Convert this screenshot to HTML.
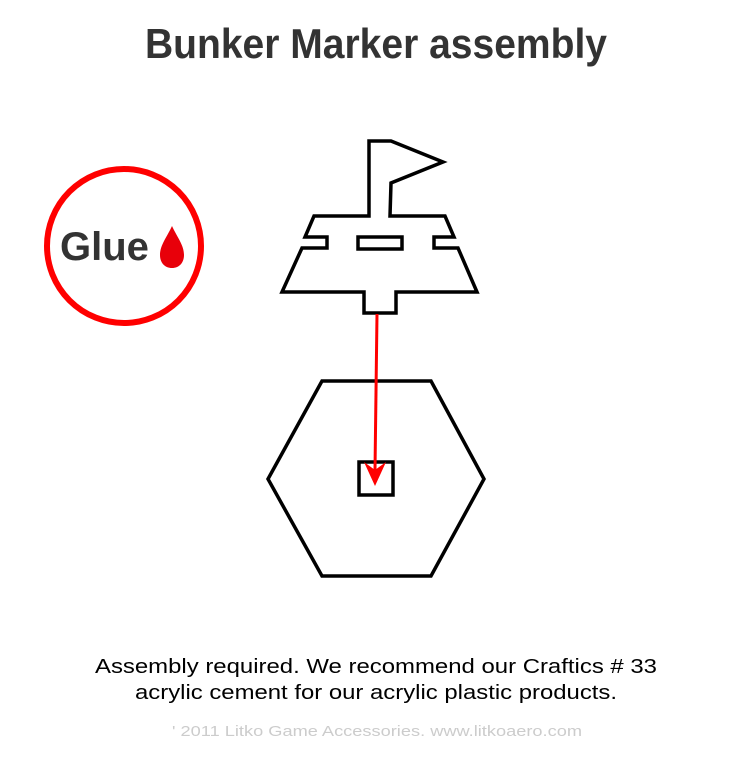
<!DOCTYPE html>
<html><head><style>
body{margin:0;width:751px;height:752px;background:#fff;overflow:hidden;font-family:"Liberation Sans",sans-serif}
</style></head><body>
<svg width="751" height="752" xmlns="http://www.w3.org/2000/svg">
<text x="376" y="58" text-anchor="middle" font-family="Liberation Sans" font-weight="bold" font-size="42" fill="#333" textLength="462" lengthAdjust="spacingAndGlyphs">Bunker Marker assembly</text>
<circle cx="124" cy="246" r="77" fill="none" stroke="#f00" stroke-width="6"/>
<text x="60" y="260" font-family="Liberation Sans" font-weight="bold" font-size="40" fill="#333">Glue</text>
<path d="M172 226 C167 237 160 245 160 255 C160 263 165 268 172 268 C179 268 184 263 184 255 C184 245 177 237 172 226 Z" fill="#e8000a"/>
<g fill="none" stroke="#000" stroke-width="3.5" stroke-linejoin="miter">
<path d="M369 141 L391 141 L443 162 L391 183 L390 216 L445 216 L454 237 L434 237 L434 248 L458 248 L477 292 L396 292 L396 313 L364 313 L364 292 L282 292 L302 248 L327 248 L327 237 L305 237 L314 216 L369 216 Z"/>
<rect x="358" y="237" width="44" height="12"/>
<path d="M322 381 L431 381 L484 479 L431 576 L322 576 L268 479 Z"/>
<rect x="359" y="462" width="34" height="33"/>
</g>
<line x1="377" y1="314" x2="375" y2="470" stroke="#f00" stroke-width="3"/>
<path d="M364 462 L375 486 L386 462 L375 470 Z" fill="#f00"/>
<text x="376" y="673" text-anchor="middle" font-size="20" fill="#000" textLength="562" lengthAdjust="spacingAndGlyphs">Assembly required. We recommend our Craftics # 33</text>
<text x="376" y="699" text-anchor="middle" font-size="20" fill="#000" textLength="482" lengthAdjust="spacingAndGlyphs">acrylic cement for our acrylic plastic products.</text>
<text x="377" y="736" text-anchor="middle" font-size="15" fill="#ccc" textLength="410" lengthAdjust="spacingAndGlyphs">'  2011 Litko Game Accessories. www.litkoaero.com</text>
</svg>
</body></html>
